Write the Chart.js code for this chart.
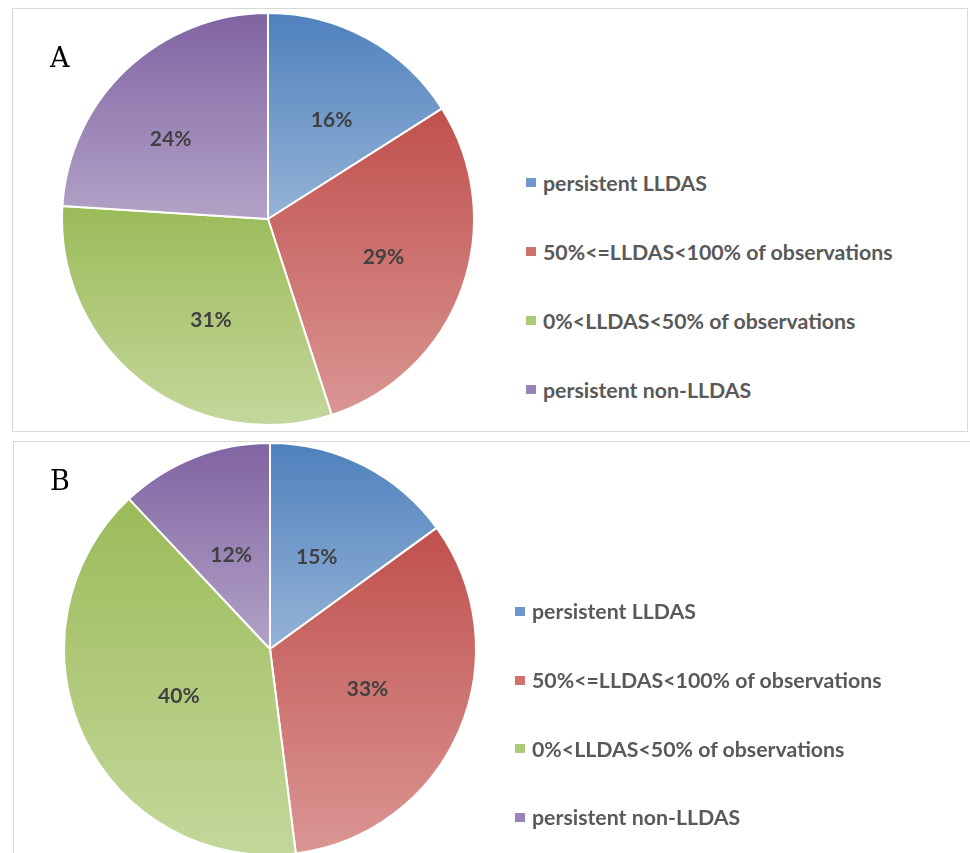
<!DOCTYPE html>
<html>
<head>
<meta charset="utf-8">
<script src="https://cdn.jsdelivr.net/npm/chart.js"></script>
<style>
body{margin:0;background:#fff;width:970px;height:853px;overflow:hidden;position:relative;font-family:Lato,"Noto Sans",sans-serif;}
.panel{position:absolute;border:1px solid #d9d9d9;background:#fff;}
#panelA{left:12px;top:8px;width:954px;height:422px;}
#panelB{left:13px;top:441px;width:970px;height:430px;border-right:none;}
.tag{position:absolute;font-family:"DejaVu Serif",serif;font-size:27px;line-height:27px;color:#000;}
.pie{position:absolute;left:0;top:0;}
.legend{position:absolute;list-style:none;margin:0;padding:0;font-weight:bold;font-size:21.3px;color:#595959;}
.legend li{height:69px;display:flex;align-items:center;white-space:nowrap;}
#legendB li{height:68.7px;}
.legend span{display:inline-block;width:10px;height:9px;margin-right:7px;}
</style>
</head>
<body>
<div class="panel" id="panelA">
  <canvas class="pie" id="pieA" width="510" height="422"></canvas>
  <div class="tag" style="left:37px;top:35px;">A</div>
  <ul class="legend" id="legendA" style="left:513px;top:139px;"></ul>
</div>
<div class="panel" id="panelB">
  <canvas class="pie" id="pieB" width="512" height="414"></canvas>
  <div class="tag" style="left:36px;top:25px;">B</div>
  <ul class="legend" id="legendB" style="left:501px;top:135px;"></ul>
</div>
<script>
// categories and shares (%)
var categories = ['persistent LLDAS', '50%<=LLDAS<100% of observations', '0%<LLDAS<50% of observations', 'persistent non-LLDAS'];
var valuesA = [16, 29, 31, 24];
var valuesB = [15, 33, 40, 12];

// excel style gradient: dark at top of slice, light at bottom
var topColors = ['#4f81bd', '#c0504d', '#9bbb59', '#8064a2'];
var bottomColors = ['#95b3d7', '#da9694', '#c4d79b', '#b3a2c7'];
var legendColors = ['#6f97cc', '#d0716e', '#adc97a', '#9a84b7'];

//gradient spans the bounding box of each slice
function sliceFill(c){
  var i = c.dataIndex;
  var chart = c.chart;
  var area = chart.chartArea;
  var meta = chart.getDatasetMeta(c.datasetIndex);
  var r = meta.controller.outerRadius;
  if (!area || !r) return topColors[i];
  var data = chart.data.datasets[c.datasetIndex].data;
  var total = 0, before = 0, k;
  for (k = 0; k < data.length; k++){ total += data[k]; }
  for (k = 0; k < i; k++){ before += data[k]; }
  var a0 = -Math.PI / 2 + 2 * Math.PI * before / total;
  var a1 = a0 + 2 * Math.PI * data[i] / total;
  var cy = (area.top + area.bottom) / 2;
  var ys = [cy, cy + r * Math.sin(a0), cy + r * Math.sin(a1)];
  if (a0 <= -Math.PI / 2 + 1e-6 || a1 >= 1.5 * Math.PI - 1e-6) ys.push(cy - r);
  if (a0 <= Math.PI / 2 && a1 >= Math.PI / 2) ys.push(cy + r);
  var g = chart.ctx.createLinearGradient(0, Math.min.apply(null, ys), 0, Math.max.apply(null, ys));
  g.addColorStop(0, topColors[i]);
  g.addColorStop(1, bottomColors[i]);
  return g;
}

// percentage labels inside the slices (nudge = small manual shift like in the original)
var pieLabels = {
  id: 'pieLabels',
  afterDatasetsDraw: function(chart, args, opts){
    var ctx = chart.ctx;
    var meta = chart.getDatasetMeta(0);
    var data = chart.data.datasets[0].data;
    var nudge = opts.nudge || [];
    ctx.save();
    ctx.font = 'bold 21px Lato';
    ctx.fillStyle = '#404040';
    ctx.textAlign = 'center';
    ctx.textBaseline = 'middle';
    meta.data.forEach(function(arc, i){
      var p = arc.getProps(['x', 'y', 'startAngle', 'endAngle', 'outerRadius'], true);
      var a = (p.startAngle + p.endAngle) / 2;
      var d = p.outerRadius * opts.dist;
      var n = nudge[i] || [0, 0];
      ctx.fillText(data[i] + '%', p.x + Math.cos(a) * d + n[0], p.y + Math.sin(a) * d + n[1]);
    });
    ctx.restore();
  }
};

function buildPie(id, values, padding, dist, nudge){
  var ctx = document.getElementById(id).getContext('2d');
  return new Chart(ctx, {
    type: 'pie',
    data: {
      labels: categories,
      datasets: [{
        data: values,
        backgroundColor: sliceFill,
        borderColor: '#ffffff',
        borderWidth: 2
      }]
    },
    options: {
      responsive: false,
      animation: false,
      layout: {padding: padding},
      plugins: {
        legend: {display: false},
        tooltip: {enabled: false},
        pieLabels: {dist: dist, nudge: nudge}
      }
    },
    plugins: [pieLabels]
  });
}

function buildLegend(id){
  var ul = document.getElementById(id);
  categories.forEach(function(name, i){
    var li = document.createElement('li');
    var sw = document.createElement('span');
    sw.style.background = legendColors[i];
    li.appendChild(sw);
    li.appendChild(document.createTextNode(name));
    ul.appendChild(li);
  });
}

buildPie('pieA', valuesA, {top: 3, bottom: 5}, 0.57, [[7, 4], [5, -2], [15, 8], [-17, 6]]);
buildPie('pieB', valuesB, {top: 0, bottom: 0}, 0.5, [[0, 0], [3, -1], [2, 3], [-1, 2]]);
buildLegend('legendA');
buildLegend('legendB');
</script>
</body>
</html>
